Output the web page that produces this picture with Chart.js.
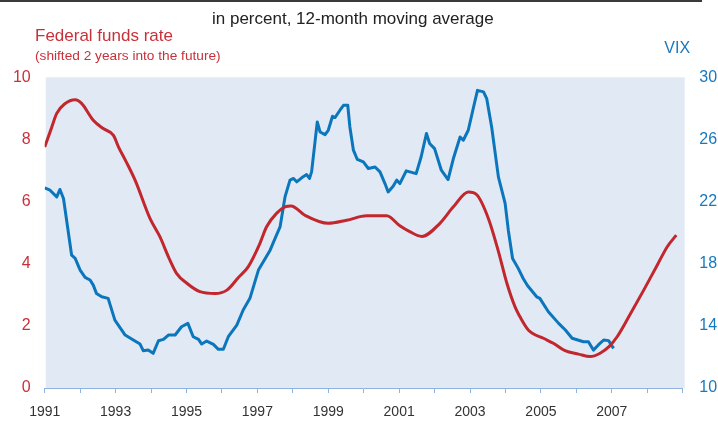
<!DOCTYPE html>
<html>
<head>
<meta charset="utf-8">
<script src="https://cdn.jsdelivr.net/npm/chart.js@4/dist/chart.umd.min.js"></script>
<style>
  html, body { margin: 0; padding: 0; background: #ffffff; }
  #wrap { width: 718px; height: 421px; position: relative; }
</style>
</head>
<body>
<div id="wrap"><canvas id="c" width="718" height="421"></canvas></div>
<script>
// ---- Data ----
const titleText = "in percent, 12-month moving average";
const leftLabel = "Federal funds rate";
const leftSubLabel = "(shifted 2 years into the future)";
const rightLabel = "VIX";

// Federal funds rate, shifted 2 years into the future (decimal year, percent)
const ffrYears = [1991.0, 1991.17, 1991.34, 1991.57, 1991.86, 1992.04, 1992.37, 1992.65, 1992.94, 1993.08,
  1993.3, 1993.55, 1993.97, 1994.25, 1994.5, 1994.72, 1995.01, 1995.38, 1995.81, 1996.14,
  1996.46, 1996.74, 1997.07, 1997.26, 1997.54, 1997.78, 1997.95, 1998.34, 1999.0, 1999.52,
  2000.08, 2000.65, 2001.02, 2001.3, 2001.64, 2002.15, 2002.53, 2002.95, 2003.19, 2003.52,
  2003.8, 2004.04, 2004.27, 2004.41, 2004.65, 2005.07, 2005.35, 2005.68, 2006.06, 2006.39,
  2006.67, 2006.92, 2007.15, 2007.53, 2007.9, 2008.28, 2008.56, 2008.82];
const ffrValues = [7.76, 8.3, 8.84, 9.15, 9.28, 9.16, 8.62, 8.35, 8.13, 7.76,
  7.28, 6.69, 5.46, 4.87, 4.2, 3.69, 3.37, 3.1, 3.04, 3.15,
  3.55, 3.9, 4.65, 5.19, 5.62, 5.83, 5.86, 5.56, 5.3, 5.4,
  5.54, 5.54, 5.22, 5.03, 4.88, 5.3, 5.83, 6.31, 6.22, 5.45,
  4.4, 3.37, 2.61, 2.29, 1.86, 1.6, 1.44, 1.2, 1.09, 1.01,
  1.12, 1.33, 1.65, 2.4, 3.15, 3.95, 4.54, 4.92];

// VIX, 12-month moving average (decimal year, index level)
const vixYears = [1991.0, 1991.15, 1991.34, 1991.43, 1991.53, 1991.76, 1991.86, 1992.0, 1992.14, 1992.28,
  1992.37, 1992.46, 1992.61, 1992.79, 1992.98, 1993.27, 1993.5, 1993.69, 1993.78, 1993.92,
  1994.06, 1994.21, 1994.35, 1994.49, 1994.68, 1994.86, 1995.04, 1995.19, 1995.34, 1995.43,
  1995.57, 1995.76, 1995.9, 1996.04, 1996.18, 1996.42, 1996.6, 1996.79, 1997.03, 1997.36,
  1997.5, 1997.64, 1997.78, 1997.92, 1998.02, 1998.11, 1998.25, 1998.39, 1998.47, 1998.53,
  1998.69, 1998.77, 1998.91, 1999.0, 1999.12, 1999.19, 1999.33, 1999.43, 1999.55, 1999.61,
  1999.71, 1999.82, 1999.99, 2000.13, 2000.32, 2000.46, 2000.6, 2000.69, 2000.83, 2000.93,
  2001.02, 2001.2, 2001.48, 2001.62, 2001.77, 2001.86, 2002.0, 2002.19, 2002.38, 2002.53,
  2002.72, 2002.81, 2002.95, 2003.1, 2003.21, 2003.38, 2003.47, 2003.61, 2003.8, 2003.99,
  2004.08, 2004.2, 2004.36, 2004.5, 2004.62, 2004.88, 2004.97, 2005.21, 2005.5, 2005.69,
  2005.88, 2006.2, 2006.34, 2006.48, 2006.62, 2006.77, 2006.91, 2007.05];
const vixValues = [22.88, 22.73, 22.3, 22.78, 22.2, 18.55, 18.34, 17.59, 17.12, 16.95,
  16.62, 16.09, 15.87, 15.77, 14.37, 13.41, 13.09, 12.83, 12.4, 12.44,
  12.23, 13.04, 13.13, 13.41, 13.41, 13.94, 14.16, 13.3, 13.13, 12.83,
  13.02, 12.81, 12.49, 12.49, 13.3, 14.05, 15.02, 15.77, 17.59, 18.87,
  19.63, 20.37, 22.3, 23.38, 23.49, 23.27, 23.53, 23.74, 23.49, 23.91,
  27.13, 26.48, 26.31, 26.59, 27.49, 27.41, 27.88, 28.2, 28.2, 26.8,
  25.31, 24.71, 24.55, 24.13, 24.23, 23.91, 23.16, 22.62, 22.99, 23.38,
  23.16, 23.98, 23.8, 24.87, 26.38, 25.74, 25.41, 24.02, 23.42, 24.77,
  26.16, 25.95, 26.59, 28.09, 29.16, 29.06, 28.63, 26.8, 23.59, 21.88,
  20.16, 18.34, 17.7, 17.05, 16.6, 15.87, 15.77, 14.91, 14.16, 13.73,
  13.2, 12.98, 12.98, 12.44, 12.77, 13.09, 13.05, 12.55];

// Axis ranges / ticks
const xMin = 1991, xMax = 2009;
const xTickLabels = ['1991', '1993', '1995', '1997', '1999', '2001', '2003', '2005', '2007'];
const leftMin = 0, leftMax = 10, leftStep = 2;
const rightMin = 10, rightMax = 30, rightStep = 4;

// ---- Styling ----
const RED = '#C1272D';
const RED_TEXT = '#C8313A';
const BLUE = '#0C76BC';
const BLUE_TEXT = '#1879BF';
const PLOT_BG = '#E1E9F4';
const AXIS_BLUE = '#8DB3DE';
const FONT = '"Liberation Sans", Arial, sans-serif';

const bgPlugin = {
  id: 'bgPlugin',
  beforeDraw(chart) {
    const { ctx, chartArea: a } = chart;
    ctx.save();
    ctx.fillStyle = PLOT_BG;
    ctx.fillRect(a.left + 1, a.top, a.right - a.left + 1, a.bottom - a.top);
    ctx.restore();
  },
  afterDraw(chart) {
    const ctx = chart.ctx;
    ctx.save();
    // top rule
    ctx.fillStyle = '#3a3a3a';
    ctx.fillRect(0, 0, 702, 2);
    // title
    ctx.fillStyle = '#222222';
    ctx.font = '17px ' + FONT;
    ctx.textAlign = 'center';
    ctx.textBaseline = 'alphabetic';
    ctx.fillText(titleText, 352.8, 24);
    // left axis label
    ctx.textAlign = 'left';
    ctx.fillStyle = RED_TEXT;
    ctx.font = '17px ' + FONT;
    ctx.fillText(leftLabel, 35, 41);
    ctx.font = '13.7px ' + FONT;
    ctx.fillText(leftSubLabel, 35, 59.8);
    // right axis label
    ctx.fillStyle = BLUE_TEXT;
    ctx.font = '16px ' + FONT;
    ctx.fillText(rightLabel, 664.3, 53.3);
    ctx.restore();
  }
};

const toPoints = (xs, ys) => xs.map((x, i) => ({ x: x, y: ys[i] }));

new Chart(document.getElementById('c'), {
  type: 'line',
  data: {
    datasets: [
      {
        label: leftLabel,
        data: toPoints(ffrYears, ffrValues),
        yAxisID: 'yL',
        borderColor: RED,
        borderWidth: 3,
        pointRadius: 0,
        cubicInterpolationMode: 'monotone',
        fill: false
      },
      {
        label: rightLabel,
        data: toPoints(vixYears, vixValues),
        yAxisID: 'yR',
        borderColor: BLUE,
        borderWidth: 3,
        pointRadius: 0,
        tension: 0,
        borderJoinStyle: 'round',
        fill: false
      }
    ]
  },
  options: {
    responsive: false,
    animation: false,
    devicePixelRatio: 1,
    layout: { padding: { top: 77.3, left: 0, right: 0, bottom: 0 } },
    plugins: { legend: { display: false }, tooltip: { enabled: false }, title: { display: false } },
    scales: {
      x: {
        type: 'linear',
        min: xMin,
        max: xMax,
        afterFit: s => { s.height = 33; },
        border: { display: true, color: AXIS_BLUE, width: 1 },
        grid: { display: true, drawOnChartArea: false, drawTicks: true, tickLength: 5, color: AXIS_BLUE },
        ticks: {
          stepSize: 1,
          autoSkip: false,
          maxRotation: 0,
          padding: 11,
          color: '#333333',
          font: { family: FONT, size: 14 },
          callback: v => {
            const s = String(Math.round(v));
            return xTickLabels.includes(s) ? s : '';
          }
        }
      },
      yL: {
        type: 'linear',
        position: 'left',
        min: leftMin,
        max: leftMax,
        afterFit: s => { s.width = 44.7; },
        border: { display: false },
        grid: { display: false, drawTicks: false },
        ticks: { stepSize: leftStep, padding: 14, color: RED_TEXT, font: { family: FONT, size: 16 } }
      },
      yR: {
        type: 'linear',
        position: 'right',
        min: rightMin,
        max: rightMax,
        afterFit: s => { s.width = 35.3; },
        border: { display: false },
        grid: { display: false, drawTicks: false },
        ticks: { stepSize: rightStep, padding: 16.6, color: BLUE_TEXT, font: { family: FONT, size: 16 } }
      }
    }
  },
  plugins: [bgPlugin]
});
</script>
</body>
</html>
